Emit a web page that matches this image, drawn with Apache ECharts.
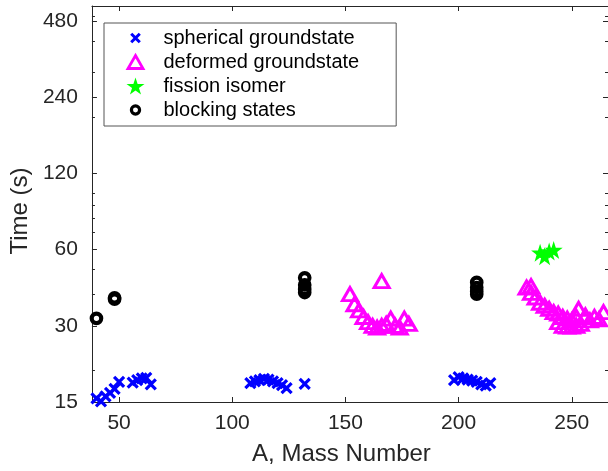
<!DOCTYPE html>
<html>
<head>
<meta charset="utf-8">
<script src="https://cdn.jsdelivr.net/npm/echarts@6/dist/echarts.min.js"></script>
<style>
html,body{margin:0;padding:0;background:#fff;}
#chart{width:608px;height:471px;}
</style>
</head>
<body>
<div id="chart"></div>
<script>
// ---- data ----
var sphA = [40, 42, 44, 46, 48, 50, 56, 58, 60, 62, 64,
            108, 110, 112, 114, 116, 118, 120, 122, 124, 132,
            198, 200, 202, 204, 206, 208, 210, 212, 214];
var sphT = [15.5, 15.1, 15.8, 16.3, 16.9, 18.0, 17.9, 18.3, 18.6, 18.7, 17.6,
            17.8, 18.1, 18.3, 18.5, 18.4, 18.1, 17.8, 17.5, 17.0, 17.7,
            18.3, 18.8, 18.6, 18.4, 18.2, 18.0, 17.6, 17.4, 17.8];
var defA = [152, 154, 156, 158, 160, 162, 164, 166, 166, 168, 170, 172, 174, 176, 178,
            230, 232, 232, 234, 236, 238, 240, 242, 244, 244, 246, 246, 248, 248, 250, 250,
            252, 252, 253, 254, 256, 258, 260, 262, 264];
var defT = [40.0, 36.5, 34.5, 32.5, 31.0, 30.0, 29.5, 45.0, 30.0, 30.5, 32.0, 30.0, 29.5, 32.0, 30.5,
            42.5, 43.0, 40.5, 38.8, 37.0, 36.0, 35.0, 34.0, 33.5, 31.0, 32.5, 30.0, 32.0, 29.8, 31.5, 29.8,
            32.5, 30.0, 35.0, 30.5, 33.0, 31.5, 32.5, 31.8, 34.0];
var fisA = [236, 238, 240, 242];
var fisT = [58.3, 56.5, 59.0, 59.8];
var blkA = [40, 48, 48, 132, 132, 132, 132, 208, 208, 208, 208];
var blkT = [32.1, 38.2, 38.7, 46.4, 43.5, 41.8, 40.6, 44.5, 42.5, 41.0, 40.0];
var xTicks = [50, 100, 150, 200, 250];
var yTicks = [15, 30, 60, 120, 240, 480];
var yMinorTicks = [20, 40, 50, 70, 80, 90, 100, 200, 300, 400, 500];
var names = ['spherical groundstate', 'deformed groundstate', 'fission isomer', 'blocking states'];

function pairs(a, b) { return a.map(function (v, i) { return [v, b[i]]; }); }

var FONT = '"Liberation Sans", Arial, Helvetica, sans-serif';
var AX = '#262626';
var crossPath = 'path://M0 0L10 10M10 0L0 10';
var crossLegend = 'path://M-5.5 -5.5M15.5 15.5M0 0L10 10M10 0L0 10';
var triLegend = 'path://M-1.5 -2.5M16.5 15.5M7.5 0L15 13L0 13Z';
var circleLegend = 'path://M-12 -12M32 32M10 0A10 10 0 1 1 9.99 0Z';
var starPath = 'path://M0,-100 L22.45,-30.9 L95.11,-30.9 L36.33,11.8 L58.78,80.9 L0,38.2 L-58.78,80.9 L-36.33,11.8 L-95.11,-30.9 L-22.45,-30.9 Z';

var styles = [
  { color: 'none', borderColor: '#0000ff', borderWidth: 3.2, opacity: 1 },
  { color: 'rgba(255,255,255,0)', borderColor: '#ff00ff', borderWidth: 3, opacity: 1 },
  { color: '#00ff00', borderWidth: 0, opacity: 1 },
  { color: 'rgba(255,255,255,0)', borderColor: '#000000', borderWidth: 4.2, opacity: 1 }
];

function xAx(pos, labels) {
  return {
    type: 'value', position: pos, min: 38, max: 266,
    axisLine: { show: true, onZero: false, lineStyle: { color: AX, width: 1 } },
    axisTick: { show: true, inside: true, length: 5, customValues: xTicks, lineStyle: { color: AX } },
    axisLabel: { show: labels, customValues: xTicks, color: AX, fontSize: 21, fontFamily: FONT, margin: 11 },
    splitLine: { show: false },
    name: labels ? 'A, Mass Number' : '',
    nameLocation: 'middle', nameGap: 40,
    nameTextStyle: { color: AX, fontSize: 24, fontFamily: FONT, padding: [0, 17, 0, 0] }
  };
}
function yAx(pos, major, labels, name) {
  return {
    type: 'log', logBase: 2, position: pos, min: 15, max: 550,
    axisLine: { show: major, onZero: false, lineStyle: { color: AX, width: 1 } },
    axisTick: { show: true, inside: true, length: major ? 5 : 3,
                customValues: major ? yTicks : yMinorTicks, lineStyle: { color: AX } },
    axisLabel: { show: labels, customValues: yTicks, color: AX, fontSize: 21, fontFamily: FONT, margin: 14 },
    splitLine: { show: false },
    minorTick: { show: false },
    name: name || '',
    nameLocation: 'middle', nameGap: 57,
    nameTextStyle: { color: AX, fontSize: 24, fontFamily: FONT, padding: [0, 14, 0, 0] }
  };
}

var chart = echarts.init(document.getElementById('chart'), null, { renderer: 'canvas' });
chart.setOption({
  animation: false,
  backgroundColor: '#fff',
  grid: { left: 89, right: 0, top: 6, bottom: 65, containLabel: false },
  xAxis: [xAx('bottom', true), xAx('top', false)],
  yAxis: [yAx('left', true, true, 'Time (s)'), yAx('left', false, false),
          yAx('right', true, false), yAx('right', false, false)],
  legend: {
    show: true, orient: 'vertical', left: 104, top: 23,
    padding: [3, 37, 4, 20], itemGap: 0, itemWidth: 18, itemHeight: 18,
    backgroundColor: '#fff', borderColor: '#555', borderWidth: 1,
    textStyle: { color: '#000', fontSize: 20, fontFamily: FONT, lineHeight: 24, padding: [0, 0, 0, 14] },
    data: [
      { name: names[0], icon: crossLegend, itemStyle: { color: 'none', borderColor: '#0000ff', borderWidth: 3 } },
      { name: names[1], icon: triLegend, itemStyle: { color: 'rgba(255,255,255,0)', borderColor: '#ff00ff', borderWidth: 2.8 } },
      { name: names[2], icon: starPath, itemStyle: { color: '#00ff00', borderWidth: 0 } },
      { name: names[3], icon: circleLegend, itemStyle: { color: 'rgba(255,255,255,0)', borderColor: '#000', borderWidth: 3.2 } }
    ]
  },
  series: [
    { name: names[0], type: 'scatter', data: pairs(sphA, sphT), symbol: crossPath, symbolSize: 10,
      itemStyle: styles[0] },
    { name: names[1], type: 'scatter', data: pairs(defA, defT), symbol: 'triangle', symbolSize: [15, 13],
      itemStyle: styles[1] },
    { name: names[2], type: 'scatter', data: pairs(fisA, fisT), symbol: starPath, symbolSize: 18,
      itemStyle: styles[2] },
    { name: names[3], type: 'scatter', data: pairs(blkA, blkT), symbol: 'circle', symbolSize: 9.5,
      itemStyle: styles[3] }
  ]
});
</script>
</body>
</html>
